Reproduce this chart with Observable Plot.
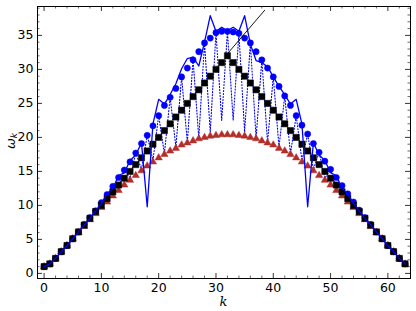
<!DOCTYPE html>
<html><head><meta charset="utf-8">
<script src="https://cdn.jsdelivr.net/npm/d3@7"></script>
<script src="https://cdn.jsdelivr.net/npm/@observablehq/plot@0.6"></script>
<style>body{margin:0;background:#fff} svg{display:block}</style>
</head><body><div id="chart"></div>
<script>
const kValues = d3.range(64);
const solidLine = [1.0,1.4,2.2,3.2,4.1,5.1,6.1,7.1,8.1,9.2,10.3,11.7,12.5,14.4,14.8,16.6,17.4,19.2,9.8,22.0,25.6,24.9,26.3,27.9,30.1,31.6,31.8,30.5,34.0,37.9,35.6,36.2,35.7,36.2,35.6,37.9,33.7,31.3,31.0,30.4,28.9,27.5,26.3,24.9,25.6,22.0,9.8,19.2,17.4,16.6,14.8,14.4,12.5,11.7,10.3,9.2,8.1,7.1,6.1,5.1,4.1,3.2,2.2,1.4];
const circleValues = [1.0,1.4,2.2,3.2,4.1,5.1,6.1,7.2,8.2,9.2,10.4,11.6,12.8,14.1,15.2,16.4,17.7,19.1,20.3,21.7,23.2,24.7,25.9,27.2,28.9,30.2,31.4,32.6,33.9,34.6,35.4,35.6,35.6,35.5,35.3,34.6,33.9,32.6,31.4,30.2,28.9,27.5,26.1,24.7,23.2,21.8,20.5,19.1,17.8,16.5,15.3,14.1,12.9,11.7,10.5,9.3,8.2,7.2,6.1,5.1,4.1,3.2,2.2,1.4];
const dottedValues = [1.0,1.4,2.2,3.2,4.1,5.1,6.1,7.2,8.2,9.2,10.4,10.9,12.8,12.5,15.2,14.0,17.7,15.3,20.3,16.6,23.2,17.6,25.9,18.6,28.9,19.3,31.4,19.9,33.9,20.8,35.4,22.5,35.6,22.5,35.3,20.8,33.9,19.9,31.4,19.3,28.9,18.6,26.1,17.6,23.2,16.6,20.5,15.3,17.8,14.0,15.3,12.5,12.9,10.9,10.5,9.3,8.2,7.2,6.1,5.1,4.1,3.2,2.2,1.4];
const squareValues = [1.0,1.4,2.2,3.2,4.1,5.1,6.1,7.1,8.1,9.1,10.0,11.0,12.0,13.0,14.0,15.0,16.0,17.0,18.0,19.0,20.0,21.0,22.0,23.0,24.0,25.0,26.0,27.0,28.0,29.0,30.0,31.0,32.0,31.0,30.0,29.0,28.0,27.0,26.0,25.0,24.0,23.0,22.0,21.0,20.0,19.0,18.0,17.0,16.0,15.0,14.0,13.0,12.0,11.0,10.0,9.1,8.1,7.1,6.1,5.1,4.1,3.2,2.2,1.4];
const triangleValues = [1.0,1.4,2.2,3.2,4.1,5.1,6.0,6.9,7.9,8.8,9.7,10.5,11.4,12.2,13.0,13.7,14.4,15.1,15.8,16.4,17.0,17.5,18.0,18.4,18.9,19.2,19.5,19.8,20.0,20.2,20.3,20.4,20.4,20.4,20.3,20.2,20.0,19.8,19.5,19.2,18.9,18.4,18.0,17.5,17.0,16.4,15.8,15.1,14.4,13.7,13.0,12.2,11.4,10.5,9.7,8.8,7.9,6.9,6.0,5.1,4.1,3.2,2.2,1.4];
const annotationK = [32, 38.5];
const annotationW = [32.3, 38.7];
const xMajor = [0,10,20,30,40,50,60];
const xMinor = d3.range(0, 64, 2).filter(v => v % 10 !== 0);
const yMajor = [0,5,10,15,20,25,30,35];
const yMinor = d3.range(0, 40, 1).filter(v => v % 5 !== 0);

const W = 416, H = 311, mL = 37, mR = 6, mT = 6, mB = 33;
const pw = W - mL - mR, ph = H - mT - mB;

const rows = (vals) => kValues.map((k, i) => ({k, w: vals[i]}));
const ann = annotationK.map((k, i) => ({k, w: annotationW[i]}));
const blue = "#0000ff", red = "#b22e2a";

const chart = Plot.plot({
  width: W, height: H,
  marginLeft: mL, marginRight: mR, marginTop: mT, marginBottom: mB,
  x: {domain: [-1.15, 63.95], axis: null},
  y: {domain: [-0.75, 39.25], axis: null},
  style: {fontFamily: "DejaVu Sans", fontSize: "12.5px", color: "black", background: "white"},
  marks: [
    Plot.line(rows(dottedValues), {x: "k", y: "w", stroke: blue, strokeWidth: 1.1, strokeDasharray: "1.1,1.9"}),
    Plot.dot(rows(circleValues), {x: "k", y: "w", r: 3.1, fill: blue, stroke: blue, strokeWidth: 0.5}),
    Plot.dot(rows(triangleValues), {x: "k", y: "w", symbol: "triangle", r: 2.7, fill: red, stroke: red, strokeWidth: 0.5}),
    Plot.dot(rows(squareValues), {x: "k", y: "w", symbol: "square", r: 3.5, fill: "black", stroke: "black", strokeWidth: 0.5}),
    Plot.line(rows(solidLine), {x: "k", y: "w", stroke: blue, strokeWidth: 1.3}),
    Plot.line(ann, {x: "k", y: "w", stroke: "black", strokeWidth: 0.9}),
    Plot.tickX(xMajor, {x: d => d, insetTop: ph - 5, stroke: "black", strokeWidth: 0.8}),
    Plot.tickX(xMajor, {x: d => d, insetBottom: ph - 5, stroke: "black", strokeWidth: 0.8}),
    Plot.tickX(xMinor, {x: d => d, insetTop: ph - 2.5, stroke: "black", strokeWidth: 0.6}),
    Plot.tickX(xMinor, {x: d => d, insetBottom: ph - 2.5, stroke: "black", strokeWidth: 0.6}),
    Plot.tickY(yMajor, {y: d => d, insetRight: pw - 5, stroke: "black", strokeWidth: 0.8}),
    Plot.tickY(yMajor, {y: d => d, insetLeft: pw - 5, stroke: "black", strokeWidth: 0.8}),
    Plot.tickY(yMinor, {y: d => d, insetRight: pw - 2.5, stroke: "black", strokeWidth: 0.6}),
    Plot.tickY(yMinor, {y: d => d, insetLeft: pw - 2.5, stroke: "black", strokeWidth: 0.6}),
    Plot.text(xMajor, {x: d => d, text: d => String(d), frameAnchor: "bottom", dy: 9, lineAnchor: "middle", fill: "black"}),
    Plot.text(yMajor, {y: d => d, text: d => String(d), frameAnchor: "left", dx: -4, textAnchor: "end", lineAnchor: "middle", fill: "black"}),
    Plot.frame({stroke: "black", strokeWidth: 1})
  ]
});

const svg = d3.select(chart);
svg.append("text")
  .attr("x", mL + pw / 2).attr("y", 302)
  .attr("text-anchor", "middle").attr("dominant-baseline", "middle")
  .attr("font-family", "DejaVu Serif").attr("font-style", "italic").attr("font-size", 13)
  .attr("fill", "black").text("k");
const yl = svg.append("text")
  .attr("transform", "translate(11,141) rotate(-90)")
  .attr("text-anchor", "middle").attr("dominant-baseline", "middle")
  .attr("font-family", "DejaVu Sans").attr("font-style", "italic").attr("font-size", 13)
  .attr("fill", "black");
yl.append("tspan").text("ω");
yl.append("tspan").attr("font-size", 9).attr("dy", 3).text("k");

document.getElementById("chart").appendChild(chart);
</script>
</body></html>
